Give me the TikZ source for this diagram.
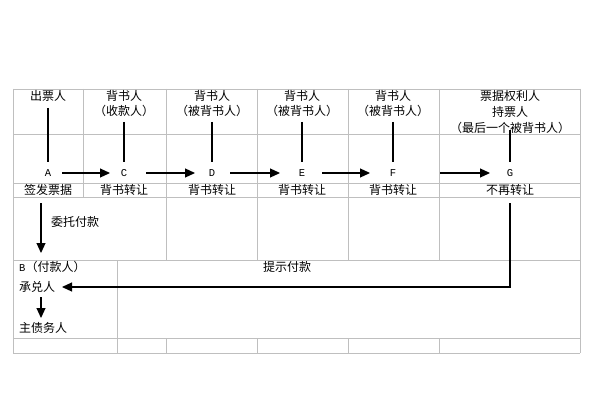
\documentclass[tikz,border=0pt]{standalone}
\usepackage{fontspec}
\setmainfont{Noto Sans CJK SC}
\newfontfamily\latinmono{Liberation Mono}
\usetikzlibrary{arrows.meta}
\begin{document}
\begin{tikzpicture}[x=1pt,y=-1pt,
  gridline/.style={draw=black!25, line width=0.8pt},
  lbl/.style={font=\fontsize{12}{13}\selectfont, inner sep=0pt},
  letter/.style={font=\latinmono\fontsize{10.5}{11}\selectfont, inner sep=0pt},
  conn/.style={line width=1.1pt},
  arr/.style={conn, -{Triangle[length=10pt,width=9pt]}}]
\useasboundingbox[fill=white] (0,0) rectangle (593,406);
% grid
\foreach \y in {89,134,183,197,260,338,353}
  \draw[gridline] (13,\y) -- (580,\y);
\draw[gridline] (13,89) -- (13,353);
\draw[gridline] (580,89) -- (580,353);
\draw[gridline] (83,89) -- (83,197);
\foreach \x in {166,257,348,439} {
  \draw[gridline] (\x,89) -- (\x,260);
  \draw[gridline] (\x,338) -- (\x,353);
}
\draw[gridline] (117,260) -- (117,353);
% top labels
\node[lbl] (t1) at (48,96) {出票人};
\node[lbl] (t2) at (124,96) {背书人};
\node[lbl] (t2b) at (124,111) {（收款人）};
\node[lbl] (t3) at (212,96) {背书人};
\node[lbl] (t3b) at (212,111) {（被背书人）};
\node[lbl] (t4) at (302,96) {背书人};
\node[lbl] (t4b) at (302,111) {（被背书人）};
\node[lbl] (t5) at (393,96) {背书人};
\node[lbl] (t5b) at (393,111) {（被背书人）};
\node[lbl] (t6) at (510,96) {票据权利人};
\node[lbl] (t6b) at (510,112) {持票人};
\node[lbl] (t6c) at (510,128) {（最后一个被背书人）};
% letters
\node[letter] (A) at (48,173) {A};
\node[letter] (C) at (124,173) {C};
\node[letter] (D) at (212,173) {D};
\node[letter] (E) at (302,173) {E};
\node[letter] (F) at (393,173) {F};
\node[letter] (G) at (510,173) {G};
% bottom labels
\node[lbl] (b1) at (48,190) {签发票据};
\node[lbl] (b2) at (124,190) {背书转让};
\node[lbl] (b3) at (212,190) {背书转让};
\node[lbl] (b4) at (302,190) {背书转让};
\node[lbl] (b5) at (393,190) {背书转让};
\node[lbl] (b6) at (510,190) {不再转让};
% lower labels
\node[lbl] (wt) at (75,222) {委托付款};
\node[lbl,anchor=west] (B) at (19,267) {{\latinmono\fontsize{10.5}{11}\selectfont B}（付款人）};
\node[lbl,anchor=west] (cd) at (19,287) {承兑人};
\node[lbl,anchor=west] (zz) at (19,328) {主债务人};
\node[lbl] (ts) at (287,267) {提示付款};
% connectors
\coordinate (sA) at (48,108);
\coordinate (sC) at (124,122);
\coordinate (sD) at (212,122);
\coordinate (sE) at (302,122);
\coordinate (sF) at (393,122);
\coordinate (sG) at (510,130);
\foreach \s/\n in {sA/A,sC/C,sD/D,sE/E,sF/F,sG/G}
  \draw[conn] (\s) -- ([yshift=11pt]\n.center);
\draw[arr] ([xshift=14pt]A.center) -- ([xshift=-14pt]C.center);
\draw[arr] ([xshift=22pt]C.center) -- ([xshift=-17pt]D.center);
\draw[arr] ([xshift=18pt]D.center) -- ([xshift=-22pt]E.center);
\draw[arr] ([xshift=20pt]E.center) -- ([xshift=-23pt]F.center);
\draw[arr] ([xshift=47pt]F.center) -- ([xshift=-20pt]G.center);
\coordinate (w1) at (41,203);
\coordinate (w2) at (41,253);
\draw[arr] (w1) -- (w2);
\draw[arr] ([yshift=-30pt]G.center) |- (cd.east -| 62,287);
\coordinate (c1) at (41,297);
\coordinate (c2) at (41,318);
\draw[arr] (c1) -- (c2);
\end{tikzpicture}
\end{document}
